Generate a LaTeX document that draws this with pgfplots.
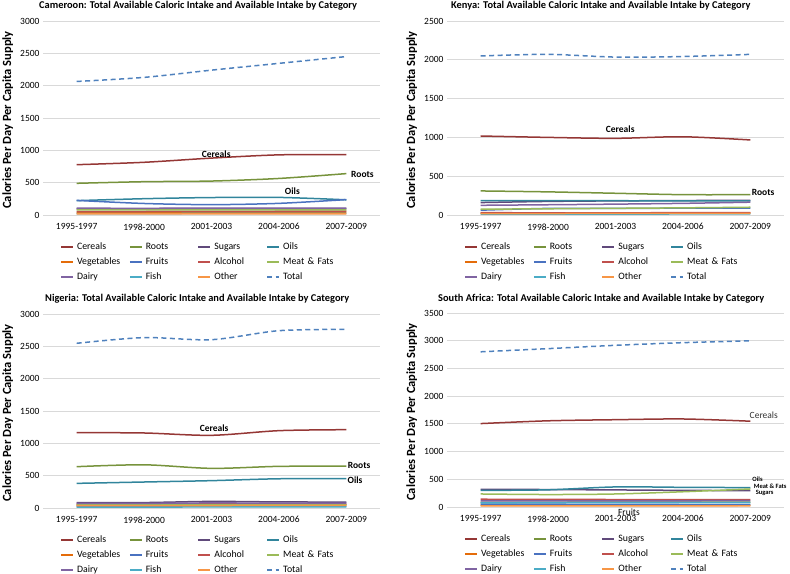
\documentclass[border=0pt]{standalone}
\usepackage{pgfplots}
\pgfplotsset{compat=1.18}
\usepackage{pgfplotstable}
\usepackage{fontspec}
\setmainfont{Carlito}

\definecolor{cCer}{HTML}{953735}
\definecolor{cRoo}{HTML}{77933C}
\definecolor{cSug}{HTML}{604A7B}
\definecolor{cOil}{HTML}{31859C}
\definecolor{cVeg}{HTML}{E46C0A}
\definecolor{cFru}{HTML}{4A72C0}
\definecolor{cAlc}{HTML}{C0504D}
\definecolor{cMea}{HTML}{9BBB59}
\definecolor{cDai}{HTML}{8064A2}
\definecolor{cFis}{HTML}{4BACC6}
\definecolor{cOth}{HTML}{F79646}
\definecolor{cTot}{HTML}{4F81BD}

\pgfplotstableread{
x Cer Roo Sug Oil Veg Fru Alc Mea Dai Fis Oth Tot
0 778 490 95 222 38 226 52 78 105 22 16 2065
1 815 515 96 252 40 178 54 79 104 22 17 2128
2 880 525 98 270 42 160 56 78 106 24 18 2240
3 930 565 97 272 40 180 58 78 106 24 18 2345
4 935 640 98 235 40 238 58 80 108 25 18 2450
}\cam
\pgfplotstableread{
x Cer Roo Sug Oil Veg Fru Alc Mea Dai Fis Oth Tot
0 1018 310 160 185 25 62 30 75 125 12 18 2050
1 1000 298 175 186 25 85 28 80 132 12 19 2070
2 988 280 182 184 24 85 28 86 140 12 20 2035
3 1008 262 186 182 25 88 30 92 150 13 20 2042
4 967 262 190 182 26 90 32 100 165 13 20 2070
}\ken
\pgfplotstableread{
x Cer Roo Sug Oil Veg Fru Alc Mea Dai Fis Oth Tot
0 1165 639 82 381 40 20 60 50 70 15 35 2547
1 1160 668 84 402 40 22 62 50 72 15 36 2635
2 1124 613 102 423 42 24 65 52 78 16 38 2603
3 1196 644 94 452 45 25 62 50 75 18 40 2742
4 1211 646 92 454 48 25 60 50 75 18 40 2762
}\nig
\pgfplotstableread{
x Cer Roo Sug Oil Veg Fru Alc Mea Dai Fis Oth Tot
0 1505 85 320 300 30 50 140 235 110 75 20 2800
1 1555 85 315 310 30 50 138 225 110 78 22 2857
2 1575 88 308 362 30 48 135 235 110 80 22 2917
3 1588 90 300 355 30 45 135 275 112 80 22 2965
4 1548 90 295 350 32 45 135 325 115 80 22 2998
}\saf

\newcommand{\allseries}[1]{%
\addplot[draw=cCer] table[x=x,y=Cer]{#1}; \addlegendentry{Cereals}
\addplot[draw=cRoo] table[x=x,y=Roo]{#1}; \addlegendentry{Roots}
\addplot[draw=cSug] table[x=x,y=Sug]{#1}; \addlegendentry{Sugars}
\addplot[draw=cOil] table[x=x,y=Oil]{#1}; \addlegendentry{Oils}
\addplot[draw=cVeg] table[x=x,y=Veg]{#1}; \addlegendentry{Vegetables}
\addplot[draw=cFru] table[x=x,y=Fru]{#1}; \addlegendentry{Fruits}
\addplot[draw=cAlc] table[x=x,y=Alc]{#1}; \addlegendentry{Alcohol}
\addplot[draw=cMea] table[x=x,y=Mea]{#1}; \addlegendentry{Meat \& Fats}
\addplot[draw=cDai] table[x=x,y=Dai]{#1}; \addlegendentry{Dairy}
\addplot[draw=cFis] table[x=x,y=Fis]{#1}; \addlegendentry{Fish}
\addplot[draw=cOth] table[x=x,y=Oth]{#1}; \addlegendentry{Other}
\addplot[draw=cTot, line width=1.5bp, dash pattern=on 5bp off 3.5bp] table[x=x,y=Tot]{#1}; \addlegendentry{Total}
}

\pgfplotsset{
 panel/.style={
  scale only axis, width=337bp, height=194bp, anchor=south west,
  xmin=-0.5, xmax=4.5, ymin=0,
  xtick={0,...,4},
  xticklabels={1995-1997,1998-2000,2001-2003,2004-2006,2007-2009},
  axis line style={draw=none}, major tick length=0pt,
  ymajorgrids, grid style={draw=black!15, line width=0.75bp},
  tick label style={font=\fontsize{9.5bp}{11bp}\selectfont, text=black},
  /pgf/number format/assume math mode=true,
  /pgf/number format/1000 sep={},
  scaled y ticks=false,
  xticklabel style={yshift=-5bp},
  ylabel={Calories Per Day Per Capita Supply},
  ylabel style={font=\bfseries\fontsize{12.5bp}{14bp}\selectfont, at={(axis description cs:-0.105,0.49)}, anchor=center},
  clip=false,
  legend columns=4,
  legend cell align=left,
  legend style={draw=none, fill=none, anchor=north west, at={(0.05,-0.141)},
    inner sep=0pt, row sep=6bp,
    font=\fontsize{9.8bp}{11bp}\selectfont,
    nodes={inner xsep=3bp, inner ysep=0bp, text height=7bp, text depth=2bp, text width=60bp, align=left},
    /tikz/every even column/.append style={column sep=-11.3bp}},
  legend image code/.code={\draw[line width=2bp,##1] (0bp,0bp) -- (12bp,0bp);},
  every axis plot/.append style={line width=1.5bp, smooth, no markers},
 }
}

\begin{document}
\begin{tikzpicture}
\useasboundingbox (0,0) rectangle (790bp,574bp);

% Cameroon
\begin{axis}[panel, at={(43bp,359bp)}, ymax=3000, ytick={0,500,...,3000}]
\allseries{\cam}
\node[font=\bfseries\fontsize{9.5bp}{11bp}\selectfont] at (axis cs:2.07,943) {Cereals};
\node[font=\bfseries\fontsize{9.5bp}{11bp}\selectfont] at (axis cs:4.24,634) {Roots};
\node[font=\bfseries\fontsize{9.5bp}{11bp}\selectfont] at (axis cs:3.2,371) {Oils};
\end{axis}

% Kenya
\begin{axis}[panel, at={(447bp,359bp)}, ymax=2500, ytick={0,500,...,2500}]
\allseries{\ken}
\node[font=\bfseries\fontsize{9.5bp}{11bp}\selectfont] at (axis cs:2.07,1108) {Cereals};
\node[font=\bfseries\fontsize{9.5bp}{11bp}\selectfont] at (axis cs:4.19,296) {Roots};
\end{axis}

% Nigeria
\begin{axis}[panel, at={(43bp,66bp)}, ymax=3000, ytick={0,500,...,3000}]
\allseries{\nig}
\node[font=\bfseries\fontsize{9.5bp}{11bp}\selectfont] at (axis cs:2.04,1237) {Cereals};
\node[font=\bfseries\fontsize{9.5bp}{11bp}\selectfont] at (axis cs:4.19,665) {Roots};
\node[font=\bfseries\fontsize{9.5bp}{11bp}\selectfont] at (axis cs:4.13,433) {Oils};
\end{axis}

% South Africa
\begin{axis}[panel, at={(447bp,67bp)}, ymax=3500, ytick={0,500,...,3500}]
\allseries{\saf}
\node[font=\fontsize{9.5bp}{11bp}\selectfont, text=black!80] at (axis cs:4.2,1660) {Cereals};
\node[font=\bfseries\fontsize{6.5bp}{7bp}\selectfont, anchor=west] at (axis cs:3.98,505) {Oils};
\node[font=\bfseries\fontsize{6.5bp}{7bp}\selectfont, anchor=west] at (axis cs:4.0,379) {Meat \& Fats};
\node[font=\bfseries\fontsize{6.5bp}{7bp}\selectfont, anchor=west] at (axis cs:4.03,253) {Sugars};
\node[font=\fontsize{9.5bp}{11bp}\selectfont] at (axis cs:2.2,-92) {Fruits};
\end{axis}

% Titles
\node[anchor=west, inner sep=0pt, font=\bfseries\fontsize{10.4bp}{12bp}\selectfont] at (39bp,568bp) {Cameroon: Total Available Caloric Intake and Available Intake by Category};
\node[anchor=west, inner sep=0pt, font=\bfseries\fontsize{10.4bp}{12bp}\selectfont] at (451bp,568bp) {Kenya: Total Available Caloric Intake and Available Intake by Category};
\node[anchor=west, inner sep=0pt, font=\bfseries\fontsize{10.4bp}{12bp}\selectfont] at (45bp,275bp) {Nigeria: Total Available Caloric Intake and Available Intake by Category};
\node[anchor=west, inner sep=0pt, font=\bfseries\fontsize{10.4bp}{12bp}\selectfont] at (438bp,275bp) {South Africa: Total Available Caloric Intake and Available Intake by Category};
\end{tikzpicture}
\end{document}
